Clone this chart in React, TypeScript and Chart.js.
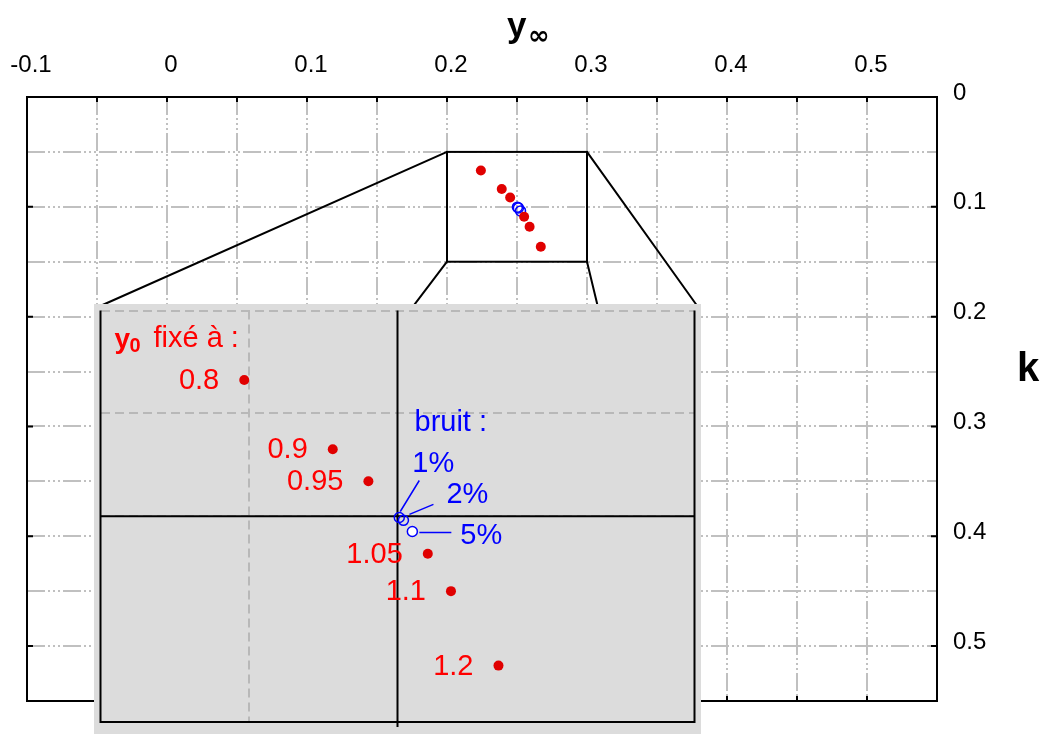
import React, { useEffect, useRef } from 'react';
import { Chart, registerables } from 'chart.js';

Chart.register(...registerables);

// ---- data ----
const Y0_LABELS = ['0.8', '0.9', '0.95', '1.05', '1.1', '1.2'];
const Y_INF = [0.2242, 0.2391, 0.2451, 0.2551, 0.259, 0.267];
const K_VALUES = [0.0669, 0.0837, 0.0915, 0.1091, 0.1182, 0.1363];

const NOISE_LABELS = ['1%', '2%', '5%'];
const NOISE_Y_INF = [0.2503, 0.251, 0.2525];
const NOISE_K = [0.1003, 0.101, 0.1037];

const X_GRID = [-0.1, -0.05, 0, 0.05, 0.1, 0.15, 0.2, 0.25, 0.3, 0.35, 0.4, 0.45, 0.5, 0.55];
const Y_GRID = [0, 0.05, 0.1, 0.15, 0.2, 0.25, 0.3, 0.35, 0.4, 0.45, 0.5, 0.55];
const X_TICK_LABELS = [-0.1, 0, 0.1, 0.2, 0.3, 0.4, 0.5];
const Y_TICK_LABELS = [0, 0.1, 0.2, 0.3, 0.4, 0.5];
const X_RANGE = [-0.1, 0.55];
const Y_RANGE = [0, 0.55];

const ZOOM_X = [0.2, 0.3];
const ZOOM_Y = [0.05, 0.15];
const INSET_GRID_X = [0.225];
const INSET_GRID_Y = [0.05, 0.075, 0.1];
const TRUE_Y_INF = 0.25;
const TRUE_K = 0.1;

// ---- layout / style ----
const FONT = "'Liberation Sans', Arial, Helvetica, sans-serif";
const RED_DOT = '#e00000';
const RED_TXT = '#ff0000';
const BLUE = '#0000ff';
const INSET = { left: 94, top: 304, width: 607, height: 430 };
const INSET_PAD = { left: 4, top: 3, right: 3, bottom: 12 };

const has = (list: number[], v: number) => list.some((t) => Math.abs(t - v) < 1e-9);

const mainDeco = {
  id: 'mainDeco',
  beforeDatasetsDraw(chart: any) {
    const { ctx, chartArea: a, scales } = chart;
    const x = scales.x;
    const y = scales.y;
    ctx.save();
    ctx.strokeStyle = '#000';
    ctx.lineWidth = 2;
    ctx.setLineDash([]);
    ctx.beginPath();
    X_GRID.forEach((v) => {
      const px = x.getPixelForValue(v);
      ctx.moveTo(px, a.top);
      ctx.lineTo(px, a.top + 5);
      ctx.moveTo(px, a.bottom);
      ctx.lineTo(px, a.bottom - 5);
    });
    Y_TICK_LABELS.forEach((v) => {
      const py = y.getPixelForValue(v);
      ctx.moveTo(a.left, py);
      ctx.lineTo(a.left + 6, py);
      ctx.moveTo(a.right, py);
      ctx.lineTo(a.right - 6, py);
    });
    ctx.stroke();
    ctx.strokeRect(a.left, a.top, a.right - a.left, a.bottom - a.top);
    // zoom rectangle
    const zx0 = x.getPixelForValue(ZOOM_X[0]);
    const zx1 = x.getPixelForValue(ZOOM_X[1]);
    const zy0 = y.getPixelForValue(ZOOM_Y[0]);
    const zy1 = y.getPixelForValue(ZOOM_Y[1]);
    ctx.strokeRect(zx0, zy0, zx1 - zx0, zy1 - zy0);
    // connectors to inset corners
    const ix0 = INSET.left + INSET_PAD.left;
    const iy0 = INSET.top + INSET_PAD.top;
    const ix1 = INSET.left + INSET.width - INSET_PAD.right;
    const iy1 = INSET.top + INSET.height - INSET_PAD.bottom;
    ctx.beginPath();
    ctx.moveTo(zx0, zy0);
    ctx.lineTo(ix0, iy0);
    ctx.moveTo(zx1, zy0);
    ctx.lineTo(ix1, iy0);
    ctx.moveTo(zx0, zy1);
    ctx.lineTo(ix0, iy1);
    ctx.moveTo(zx1, zy1);
    ctx.lineTo(ix1, iy1);
    ctx.stroke();
    ctx.restore();
  },
  afterDraw(chart: any) {
    const { ctx } = chart;
    ctx.save();
    ctx.fillStyle = '#000';
    ctx.textAlign = 'left';
    ctx.textBaseline = 'alphabetic';
    ctx.font = `bold 35px ${FONT}`;
    ctx.fillText('y', 507, 37);
    ctx.font = `bold 26px 'DejaVu Sans', ${FONT}`;
    ctx.fillText('∞', 528, 44);
    ctx.font = `bold 40px ${FONT}`;
    ctx.fillText('k', 1017, 381);
    ctx.restore();
  },
};

const LEADERS = [
  // [startDx, startDy, endDx, endDy, labelDx, labelBaselineDy]
  [1, -6, 20, -37, 13, -45],
  [6, -6, 30, -16, 43, -17],
  [7, 1, 39, 1, 48, 13],
];

const insetDeco = {
  id: 'insetDeco',
  beforeDatasetsDraw(chart: any) {
    const { ctx, chartArea: a, scales } = chart;
    const x = scales.x;
    const y = scales.y;
    ctx.save();
    ctx.setLineDash([]);
    ctx.strokeStyle = '#000';
    ctx.lineWidth = 2;
    ctx.beginPath();
    ctx.moveTo(a.left, a.top);
    ctx.lineTo(a.left, a.bottom);
    ctx.lineTo(a.right, a.bottom);
    ctx.lineTo(a.right, a.top);
    const cx = x.getPixelForValue(TRUE_Y_INF);
    const cy = y.getPixelForValue(TRUE_K);
    ctx.moveTo(cx, a.top);
    ctx.lineTo(cx, a.bottom + 5);
    ctx.moveTo(a.left, cy);
    ctx.lineTo(a.right, cy);
    ctx.stroke();
    // noise leaders
    ctx.strokeStyle = BLUE;
    ctx.lineWidth = 1.5;
    ctx.beginPath();
    NOISE_Y_INF.forEach((v, i) => {
      const px = x.getPixelForValue(v);
      const py = y.getPixelForValue(NOISE_K[i]);
      const L = LEADERS[i];
      ctx.moveTo(px + L[0], py + L[1]);
      ctx.lineTo(px + L[2], py + L[3]);
    });
    ctx.stroke();
    ctx.restore();
  },
  afterDatasetsDraw(chart: any) {
    const { ctx, chartArea: a, scales } = chart;
    const x = scales.x;
    const y = scales.y;
    ctx.save();
    // red value labels
    ctx.fillStyle = RED_TXT;
    ctx.font = `29px ${FONT}`;
    ctx.textAlign = 'right';
    ctx.textBaseline = 'middle';
    Y_INF.forEach((v, i) => {
      const px = x.getPixelForValue(v);
      const py = y.getPixelForValue(K_VALUES[i]);
      ctx.fillText(Y0_LABELS[i], px - 25, py + 1);
    });
    // "y0 fixé à :"
    ctx.textAlign = 'left';
    ctx.textBaseline = 'alphabetic';
    ctx.font = `bold 28px ${FONT}`;
    ctx.fillText('y', a.left + 14, a.top + 37);
    ctx.font = `bold 20px ${FONT}`;
    ctx.fillText('0', a.left + 29, a.top + 41);
    ctx.font = `29px ${FONT}`;
    ctx.fillText('fixé à :', a.left + 53, a.top + 36);
    // blue
    ctx.fillStyle = BLUE;
    ctx.fillText('bruit :', a.left + 314, a.top + 120);
    NOISE_Y_INF.forEach((v, i) => {
      const px = x.getPixelForValue(v);
      const py = y.getPixelForValue(NOISE_K[i]);
      const L = LEADERS[i];
      ctx.fillText(NOISE_LABELS[i], px + L[4], py + L[5]);
    });
    ctx.restore();
  },
};

export default function App() {
  const mainRef = useRef<HTMLCanvasElement>(null);
  const insetRef = useRef<HTMLCanvasElement>(null);

  useEffect(() => {
    const redPts = Y_INF.map((v, i) => ({ x: v, y: K_VALUES[i] }));
    const bluePts = NOISE_Y_INF.map((v, i) => ({ x: v, y: NOISE_K[i] }));
    const gridDash = [18, 3, 2, 3, 2, 3, 2, 3];

    const main = new Chart(mainRef.current as HTMLCanvasElement, {
      type: 'scatter',
      data: {
        datasets: [
          {
            data: redPts,
            pointRadius: 5,
            pointBackgroundColor: RED_DOT,
            pointBorderWidth: 0,
            showLine: false,
          },
          {
            data: bluePts,
            pointRadius: 5,
            pointBackgroundColor: 'rgba(255,255,255,0)',
            pointBorderColor: BLUE,
            pointBorderWidth: 1.5,
            showLine: false,
          },
        ],
      },
      options: {
        responsive: false,
        animation: false,
        devicePixelRatio: 1,
        layout: { padding: { left: 27, top: 0, right: 0, bottom: 33 } },
        plugins: { legend: { display: false }, tooltip: { enabled: false } },
        scales: {
          x: {
            type: 'linear',
            position: 'top',
            min: X_RANGE[0],
            max: X_RANGE[1],
            afterBuildTicks: (s: any) => {
              s.ticks = X_GRID.map((v) => ({ value: v }));
            },
            afterFit: (s: any) => {
              s.height = 97;
              s.paddingLeft = 0;
              s.paddingRight = 0;
            },
            ticks: {
              autoSkip: false,
              maxRotation: 0,
              padding: 17,
              labelOffset: 4,
              color: '#000',
              font: { family: FONT, size: 24 },
              callback: (v: any) => (has(X_TICK_LABELS, Number(v)) ? String(Number(v)) : ''),
            },
            grid: { color: '#c0c0c0', lineWidth: 2, drawTicks: false },
            border: { display: false, dash: gridDash },
          },
          y: {
            type: 'linear',
            position: 'right',
            reverse: true,
            min: Y_RANGE[0],
            max: Y_RANGE[1],
            afterBuildTicks: (s: any) => {
              s.ticks = Y_GRID.map((v) => ({ value: v }));
            },
            afterFit: (s: any) => {
              s.width = 105;
              s.paddingTop = 0;
              s.paddingBottom = 0;
            },
            ticks: {
              autoSkip: false,
              padding: 16,
              labelOffset: -4,
              color: '#000',
              font: { family: FONT, size: 24 },
              callback: (v: any) => (has(Y_TICK_LABELS, Number(v)) ? String(Number(v)) : ''),
            },
            grid: { color: '#c0c0c0', lineWidth: 2, drawTicks: false },
            border: { display: false, dash: gridDash },
          },
        },
      } as any,
      plugins: [mainDeco],
    });

    const inset = new Chart(insetRef.current as HTMLCanvasElement, {
      type: 'scatter',
      data: {
        datasets: [
          {
            data: redPts,
            pointRadius: 5,
            pointBackgroundColor: RED_DOT,
            pointBorderWidth: 0,
            showLine: false,
          },
          {
            data: bluePts,
            pointRadius: 5,
            pointBackgroundColor: ['rgba(0,0,0,0)', 'rgba(0,0,0,0)', '#ffffff'],
            pointBorderColor: BLUE,
            pointBorderWidth: 1.5,
            showLine: false,
          },
        ],
      },
      options: {
        responsive: false,
        animation: false,
        devicePixelRatio: 1,
        layout: { padding: INSET_PAD },
        plugins: { legend: { display: false }, tooltip: { enabled: false } },
        scales: {
          x: {
            type: 'linear',
            min: ZOOM_X[0],
            max: ZOOM_X[1],
            afterBuildTicks: (s: any) => {
              s.ticks = INSET_GRID_X.map((v) => ({ value: v }));
            },
            afterFit: (s: any) => {
              s.height = 0;
              s.paddingLeft = 0;
              s.paddingRight = 0;
            },
            ticks: { display: false },
            grid: { color: '#b8b8b8', lineWidth: 2, drawTicks: false },
            border: { display: false, dash: [9, 5] },
          },
          y: {
            type: 'linear',
            reverse: true,
            min: ZOOM_Y[0],
            max: ZOOM_Y[1],
            afterBuildTicks: (s: any) => {
              s.ticks = INSET_GRID_Y.map((v) => ({ value: v }));
            },
            afterFit: (s: any) => {
              s.width = 0;
              s.paddingTop = 0;
              s.paddingBottom = 0;
            },
            ticks: { display: false },
            grid: { color: '#b8b8b8', lineWidth: 2, drawTicks: false },
            border: { display: false, dash: [9, 5] },
          },
        },
      } as any,
      plugins: [insetDeco],
    });

    return () => {
      main.destroy();
      inset.destroy();
    };
  }, []);

  return (
    <div style={{ position: 'absolute', left: 0, top: 0, width: 1042, height: 734, background: '#fff', overflow: 'hidden' }}>
      <canvas ref={mainRef} width={1042} height={734} style={{ position: 'absolute', left: 0, top: 0 }} />
      <div
        style={{
          position: 'absolute',
          left: INSET.left,
          top: INSET.top,
          width: INSET.width,
          height: INSET.height,
          background: '#dcdcdc',
        }}
      >
        <canvas ref={insetRef} width={INSET.width} height={INSET.height} style={{ position: 'absolute', left: 0, top: 0 }} />
      </div>
    </div>
  );
}
